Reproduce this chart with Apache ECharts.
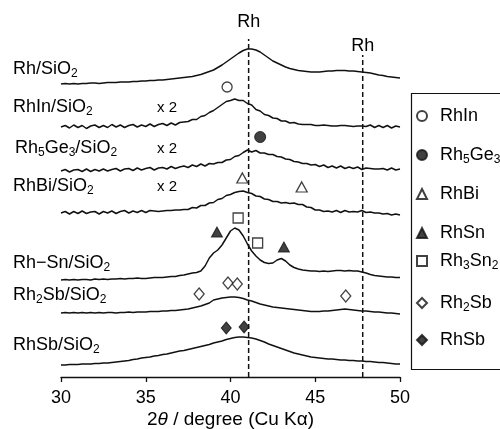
<!DOCTYPE html>
<html><head><meta charset="utf-8">
<script src="https://cdn.jsdelivr.net/npm/echarts@6/dist/echarts.min.js"></script>
<style>html,body{margin:0;padding:0;background:#fff}#c{width:500px;height:429px}</style>
</head><body><div id="c"></div>
<script>
// 2θ sampling grid (degrees)
const twoTheta = [30,30.25,30.5,30.75,31,31.25,31.5,31.75,32,32.25,32.5,32.75,33,33.25,33.5,33.75,34,34.25,34.5,34.75,35,35.25,35.5,35.75,36,36.25,36.5,36.75,37,37.25,37.5,37.75,38,38.25,38.5,38.75,39,39.25,39.5,39.75,40,40.25,40.5,40.75,41,41.25,41.5,41.75,42,42.25,42.5,42.75,43,43.25,43.5,43.75,44,44.25,44.5,44.75,45,45.25,45.5,45.75,46,46.25,46.5,46.75,47,47.25,47.5,47.75,48,48.25,48.5,48.75,49,49.25,49.5,49.75,50];

// sample labels and vertical stacking offsets (intensity units)
const sampleLabels = [
  '{m|Rh/SiO}{s|2}',
  '{m|RhIn/SiO}{s|2}',
  '{m|Rh}{s|5}{m|Ge}{s|3}{m|/SiO}{s|2}',
  '{m|RhBi/SiO}{s|2}',
  '{m|Rh\u2212Sn/SiO}{s|2}',
  '{m|Rh}{s|2}{m|Sb/SiO}{s|2}',
  '{m|RhSb/SiO}{s|2}'
];
const sampleOffsets = [293, 250, 206, 164, 97, 64, 12];
const scaleNotes = ['', 'x 2', 'x 2', 'x 2', '', '', ''];

// intensities (relative, above each trace's own baseline)
const rhSiO2 = [0,0.5,0,0.5,0,0.5,0.5,1,1,0.5, 1,1.5,1.5,1.5,2,2,2,2.5,2.5,3, 3,3.5,3.5,4,4,4.5,5,5.5,6,6.5, 7,7.5,8.5,9.5,11,12.5,14,16.5,19,22, 25,28,31,33.5,35,35,34,32,29,26, 23,21,19,17,15.5,14.5,13.5,13,12.5,12, 12,12,12.5,13,13,13.5,13.5,13.5,13,13, 12.5,12,11.5,11,10,9,8.5,7.5,7,6.5,6];
const rhInSiO2 = [0,1.5,-1,2,-0.5,1.5,-1.5,1,2,-0.5, 1.5,-0.5,2.5,0,2,-0.5,1.5,2.5,0,2, 0.5,3,0.5,2.5,3.5,1.5,4,2,4.5,5, 5.5,7.5,7.5,10.5,11.5,14.5,16.5,19.5,22.5,25.5, 26.5,28,26.5,26.5,23.5,22,17.5,16,12.5,11.5, 9,8.5,6,6,4,4.5,3,2.5,2.5,2.5, 1.5,1.5,2,1.5,1,1,1.5,1.5,1,0.5, 1,1,0.5,2,-0.5,1.5,-0.5,1.5,-1,1,0];
const rh5Ge3SiO2 = [0,1.5,-1,1,1.5,-0.5,2,-0.5,1.5,0, 2,0,1.5,2.5,0,2,2.5,0.5,3,1, 2.5,3.5,1,3,3.5,2,4.5,2.5,4,5, 3.5,6,4.5,7,5,7.5,7,8.5,8.5,11, 11.5,14.5,15.5,18.5,21,19,20.5,18,18,16.5, 16.5,14.5,14,12,11.5,9.5,9,7.5,7.5,6, 6.5,4.5,6,3.5,5,3,5,2.5,4,2.5, 4,1.5,3,2.5,2,2,2.5,1,3,1,2];
const rhBiSiO2 = [0,1.5,-1,1.5,-0.5,2,-0.5,1,1.5,-1, 1.5,0,2,-0.5,1.5,2.5,0,2,0.5,2.5, 0.5,2.5,2,1.5,2,2.5,2.5,3,3,3.5, 3.5,5.5,5,7.5,7.5,10,10.5,13.5,14.5,17.5, 18.5,20.5,21.5,22,20.5,19.5,17,16.5,14,13.5, 11.5,11.5,10,10.5,9.5,10,8.5,8.5,6,5.5, 3,3,1.5,2,1,2.5,0.5,2.5,1,1.5, 1,2.5,0.5,1,0,0,-1,-0.5,-2,-1,-2];
const rhSnSiO2 = [0,0.5,0,0.5,0,0.5,0.5,0,1,0.5, 1,0.5,1,1,1.5,1,1.5,1.5,2,1.5, 1.5,2,2.5,2.5,2.5,3,3.5,3.5,4.5,5, 6,7,7.5,9,14,22,27,30,35,42, 49,52,50,44,36,29,24,20,17.5,16.5, 17,20,21.5,19,15,12.5,11,10,9.5,9, 9,8.5,9,8.5,9,9.5,9.5,9,9.5,9, 9,8,7,5.5,4.5,4,3.5,3,3,2.5,2.5];
const rh2SbSiO2 = [0,0.5,0,0.5,0,0.5,0,0.5,0,0.5, 0,0.5,0.5,0,0.5,0.5,1,0.5,1,1, 1,1.5,1.5,1.5,2,2,2.5,2.5,3,3.5, 4,5,6,7,8.5,10,13,14,15,15.5, 16,16,15.5,14.5,13,12,10.5,9,8,7, 6,5.5,5,4.5,4,3.5,3,2.5,2,1.5, 1.5,1.5,2,2,2.5,3,3.5,4,3.5,3, 2.5,2,2,1.5,1,1,0.5,0,0,-0.5,-1];
const rhSbSiO2 = [0,0,0.5,0.5,0.5,1,1,1,1.5,1.5, 2,2,2.5,3,3.5,4,4.5,5.5,6,7, 7.5,8,9,9.5,10.5,11,12,13,14,14.5, 15.5,16.5,17.5,18.5,19.5,20.5,22,23,24,25.5, 26.5,27.5,28,28,27.5,27,26,24.5,23,21, 19.5,18,16.5,15,13.5,12,11,10,9,8, 7.5,7,6.5,6,6,5.5,5,5,4.5,4.5, 4,4,3.5,3.5,3,2.5,2.5,2,1.5,1,1];
const traces = [rhSiO2, rhInSiO2, rh5Ge3SiO2, rhBiSiO2, rhSnSiO2, rh2SbSiO2, rhSbSiO2];

// reference Rh reflections
const rhRefTheta = [41.07, 47.8];
const rhRefTop = [338, 322];
const rhRefLabelLevel = [355, 331];

// phase markers: [2θ, level]
const phaseNames = ['RhIn', 'Rh5Ge3', 'RhBi', 'RhSn', 'Rh3Sn2', 'Rh2Sb', 'RhSb'];
const phaseLegendText = ['{m|RhIn}', '{m|Rh}{s|5}{m|Ge}{s|3}', '{m|RhBi}', '{m|RhSn}', '{m|Rh}{s|3}{m|Sn}{s|2}', '{m|Rh}{s|2}{m|Sb}', '{m|RhSb}'];
const phaseSymbols = ['circle', 'circle', 'triangle', 'triangle', 'rect', 'diamond', 'diamond'];
const phaseFilled = [false, true, false, true, false, false, true];
const phaseSymbolSize = [10, 11, [11, 10], [11, 10], 10, [10, 12], [10, 12]];
const rhInPeaks = [[39.8, 290]];
const rh5Ge3Peaks = [[41.75, 240]];
const rhBiPeaks = [[40.7, 199], [44.2, 190]];
const rhSnPeaks = [[39.2, 145], [43.15, 130]];
const rh3Sn2Peaks = [[40.45, 159], [41.6, 134]];
const rh2SbPeaks = [[38.15, 83], [39.85, 94], [40.4, 93], [46.8, 81]];
const rhSbPeaks = [[39.75, 49], [40.8, 50]];
const phasePeaks = [rhInPeaks, rh5Ge3Peaks, rhBiPeaks, rhSnPeaks, rh3Sn2Peaks, rh2SbPeaks, rhSbPeaks];

// layout constants
const labelCenters = [71, 109, 150, 188, 265, 297, 347];
const legendRowCenters = [118, 157, 196, 235, 263, 305, 342];

const INK = '#000';
const FONT = '"Liberation Sans", Arial, Helvetica, sans-serif';
const rich = {
  m: {fontSize: 18, fontFamily: FONT, color: INK, lineHeight: 22, verticalAlign: 'middle'},
  s: {fontSize: 12, fontFamily: FONT, color: INK, lineHeight: 10, verticalAlign: 'bottom'}
};

const series = [];
traces.forEach((tr, i) => {
  series.push({
    type: 'line', name: 'trace' + i, silent: true, symbol: 'none', animation: false,
    data: twoTheta.map((x, k) => [x, tr[k] + sampleOffsets[i]]),
    lineStyle: {color: '#111', width: 1.5}, z: 2
  });
});
rhRefTheta.forEach((x, i) => {
  series.push({
    type: 'line', name: 'rhref' + i, silent: true, symbol: 'none', animation: false,
    data: [[x, 0], [x, rhRefTop[i]]],
    lineStyle: {color: '#111', width: 1.5, type: [5, 3]}, z: 1
  });
});
phaseNames.forEach((n, i) => {
  series.push({
    type: 'scatter', name: n, animation: false, symbol: phaseSymbols[i], symbolSize: phaseSymbolSize[i],
    data: phasePeaks[i],
    itemStyle: phaseFilled[i] ? {color: '#111', borderColor: '#111', borderWidth: 1}
                              : {color: '#fff', borderColor: '#111', borderWidth: 1.3},
    z: 5
  });
});

const graphics = [];
sampleLabels.forEach((t, i) => {
  graphics.push({type: 'text', left: i === 2 ? 15 : 13, top: labelCenters[i] - 11,
    style: {text: t, rich: rich, font: '18px ' + FONT, fill: INK}});
  if (scaleNotes[i]) {
    graphics.push({type: 'text', left: 157, top: labelCenters[i] - 9,
      style: {text: scaleNotes[i], font: '15px ' + FONT, fill: INK}});
  }
});
graphics.push({type: 'rect', left: 409, top: 91, shape: {x: 0, y: 0, width: 120, height: 276},
  style: {fill: 'none', stroke: '#111', lineWidth: 1.2}, z: 0});

const legends = phaseNames.map((n, i) => ({
  data: [n], left: 416, top: legendRowCenters[i] - 11, itemWidth: 10, itemHeight: 10,
  selectedMode: false, orient: 'horizontal', padding: 0, itemGap: 0,
  formatter: () => phaseLegendText[i],
  textStyle: {fontSize: 18, fontFamily: FONT, color: INK, padding: [0, 0, 0, 8], rich: rich}
}));

const chart = echarts.init(document.getElementById('c'), null, {renderer: 'canvas'});
chart.setOption({
  animation: false,
  backgroundColor: '#fff',
  grid: {left: 61, right: 100, top: 0, bottom: 52, containLabel: false, outerBoundsMode: 'none'},
  xAxis: {
    type: 'value', min: 30, max: 50, interval: 5,
    name: '2{i|\u03b8} / degree (Cu K\u03b1)', nameLocation: 'middle', nameGap: 33,
    nameMoveOverlap: false,
    nameTextStyle: {fontSize: 19, fontFamily: FONT, color: INK,
      rich: {i: {fontSize: 19, fontFamily: FONT, fontStyle: 'italic', color: INK}}},
    axisLine: {lineStyle: {color: '#111', width: 1.3}},
    axisTick: {inside: false, length: 5, lineStyle: {color: '#111', width: 1.3}},
    axisLabel: {fontSize: 18, fontFamily: FONT, color: INK, margin: 12},
    splitLine: {show: false}
  },
  yAxis: {type: 'value', min: 0, max: 377, show: false, splitLine: {show: false}},
  legend: legends,
  graphic: graphics,
  series: series
});
// "Rh" reflection labels, placed through the chart's own scales
const rhTexts = rhRefTheta.map((x, i) => {
  const p = chart.convertToPixel({gridIndex: 0}, [x, rhRefLabelLevel[i]]);
  return {type: 'text', x: p[0], y: p[1],
    style: {text: 'Rh', font: '18px ' + FONT, fill: INK, align: 'center', verticalAlign: 'middle'}};
});
chart.setOption({graphic: graphics.concat(rhTexts)});
</script></body></html>
